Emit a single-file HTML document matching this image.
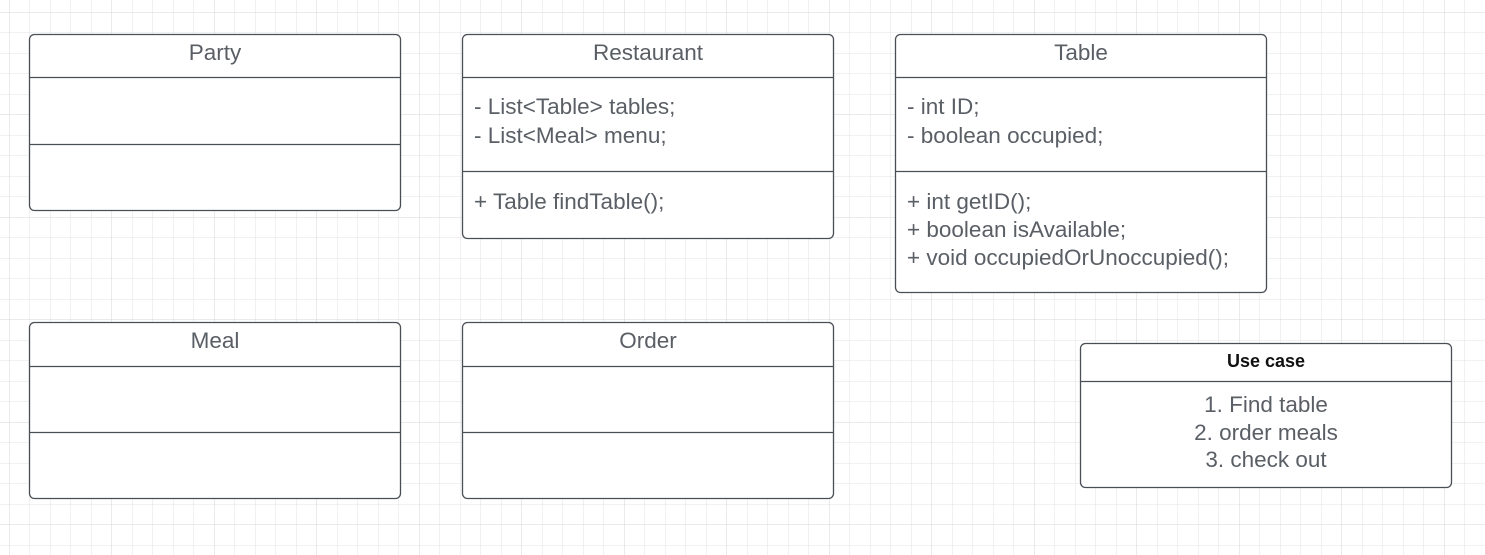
<!DOCTYPE html>
<html><head><style>
html,body{margin:0;padding:0;background:#fff;}
svg{display:block;}
text{font-family:"Liberation Sans",Arial,sans-serif;}
</style></head><body>
<svg width="1485" height="555" xmlns="http://www.w3.org/2000/svg">
<defs>
<pattern id="g" x="9" y="12" width="20.5" height="20.5" patternUnits="userSpaceOnUse">
<path d="M0 0H20.5M0 0V20.5" stroke="#e3e3e3" stroke-width="1" fill="none"/>
</pattern>
<pattern id="G" x="9" y="12" width="102.5" height="102.5" patternUnits="userSpaceOnUse">
<path d="M0 0H102.5M0 0V102.5" stroke="#d5d5d5" stroke-width="1" fill="none"/>
</pattern>
</defs>
<rect width="1485" height="555" fill="url(#g)"/>
<rect width="1485" height="555" fill="url(#G)"/>
<g stroke="#4a4f57" stroke-width="1.3" fill="#fff">
<rect x="29.5" y="34.5" width="371" height="176" rx="5"/>
<rect x="462.5" y="34.5" width="371" height="204" rx="5"/>
<rect x="895.5" y="34.5" width="371" height="258" rx="5"/>
<rect x="29.5" y="322.5" width="371" height="176" rx="5"/>
<rect x="462.5" y="322.5" width="371" height="176" rx="5"/>
<rect x="1080.5" y="343.5" width="371" height="144" rx="5"/>
<path d="M29.5 77.5H400.5M29.5 144.5H400.5M462.5 77.5H833.5M462.5 171.5H833.5M895.5 77.5H1266.5M895.5 171.5H1266.5M29.5 366.5H400.5M29.5 432.5H400.5M462.5 366.5H833.5M462.5 432.5H833.5M1080.5 381.5H1451.5" fill="none"/>
</g>
<g fill="#5a5f66" font-size="22.5">
<text x="215" y="60" text-anchor="middle">Party</text>
<text x="648" y="60" text-anchor="middle">Restaurant</text>
<text x="1081" y="60" text-anchor="middle">Table</text>
<text x="215" y="348" text-anchor="middle">Meal</text>
<text x="648" y="348" text-anchor="middle">Order</text>
<text x="474" y="114">- List&lt;Table&gt; tables;</text>
<text x="474" y="143">- List&lt;Meal&gt; menu;</text>
<text x="474" y="209">+ Table findTable();</text>
<text x="907" y="114">- int ID;</text>
<text x="907" y="143">- boolean occupied;</text>
<text x="907" y="209">+ int getID();</text>
<text x="907" y="237">+ boolean isAvailable;</text>
<text x="907" y="265">+ void occupiedOrUnoccupied();</text>
<text x="1266" y="412" text-anchor="middle">1. Find table</text>
<text x="1266" y="440" text-anchor="middle">2. order meals</text>
<text x="1266" y="467" text-anchor="middle">3. check out</text>
</g>
<text x="1266" y="367" text-anchor="middle" font-size="18" font-weight="bold" fill="#111">Use case</text>
</svg>
</body></html>
